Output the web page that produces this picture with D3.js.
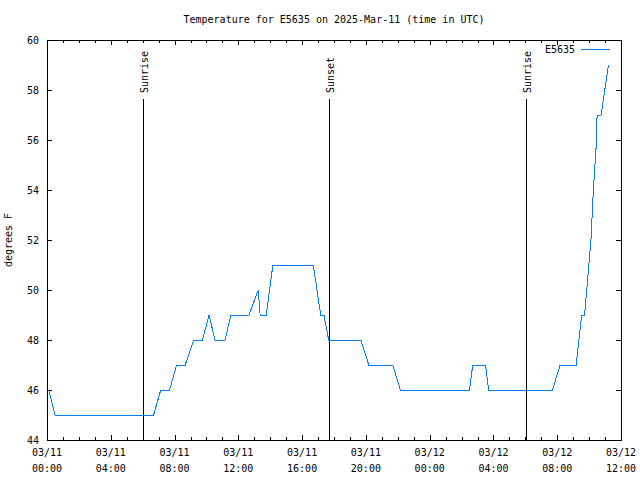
<!DOCTYPE html>
<html>
<head>
<meta charset="utf-8">
<script src="https://cdn.jsdelivr.net/npm/d3@7"></script>
<style>
  html, body { margin: 0; padding: 0; background: #fff; }
  svg { display: block; }
  text { font-family: "DejaVu Sans Mono", monospace; font-size: 10px; fill: #000; }
</style>
</head>
<body>
<svg id="chart" width="640" height="480"></svg>
<script>
// ---- data ----
const title = "Temperature for E5635 on 2025-Mar-11 (time in UTC)";
const seriesName = "E5635";
const yLabel = "degrees F";
const times = [
  "2025-03-11T00:07Z","2025-03-11T00:30Z","2025-03-11T06:41Z","2025-03-11T07:08Z",
  "2025-03-11T07:41Z","2025-03-11T08:08Z","2025-03-11T08:40Z","2025-03-11T09:12Z",
  "2025-03-11T09:45Z","2025-03-11T10:10Z","2025-03-11T10:32Z","2025-03-11T11:10Z",
  "2025-03-11T11:32Z","2025-03-11T12:40Z","2025-03-11T13:15Z","2025-03-11T13:22Z",
  "2025-03-11T13:45Z","2025-03-11T14:10Z","2025-03-11T16:42Z","2025-03-11T17:10Z",
  "2025-03-11T17:22Z","2025-03-11T17:40Z","2025-03-11T19:41Z","2025-03-11T20:11Z",
  "2025-03-11T21:41Z","2025-03-11T22:10Z","2025-03-12T02:30Z","2025-03-12T02:42Z",
  "2025-03-12T03:30Z","2025-03-12T03:42Z","2025-03-12T07:42Z","2025-03-12T08:11Z",
  "2025-03-12T09:11Z","2025-03-12T09:32Z","2025-03-12T09:43Z","2025-03-12T10:07Z",
  "2025-03-12T10:16Z","2025-03-12T10:28Z","2025-03-12T10:30Z","2025-03-12T10:45Z",
  "2025-03-12T11:13Z"
];
const temps = [
  46, 45, 45, 46,
  46, 47, 47, 48,
  48, 49, 48, 48,
  49, 49, 50, 49,
  49, 51, 51, 49,
  49, 48, 48, 47,
  47, 46, 46, 47,
  47, 46, 46, 47,
  47, 49, 49, 52,
  54, 56, 57, 57,
  59
];
const sunLabels = ["Sunrise", "Sunset", "Sunrise"];
const sunTimes = ["2025-03-11T06:03Z", "2025-03-11T17:43Z", "2025-03-12T06:03Z"];
const xDomain = ["2025-03-11T00:00Z", "2025-03-12T12:00Z"];
const yDomain = [44, 60];
const yTicks = [44, 46, 48, 50, 52, 54, 56, 58, 60];

// ---- layout ----
const L = 47, R = 621, T = 40, B = 440;
const svg = d3.select("#chart");
const x = d3.scaleUtc().domain(xDomain.map(d => new Date(d))).range([L, R]);
const y = d3.scaleLinear().domain(yDomain).range([B, T]);
const data = times.map((t, i) => ({ t: new Date(t), v: temps[i] }));

// title
svg.append("text").attr("x", (L + R) / 2).attr("y", 23)
  .attr("text-anchor", "middle").text(title);

// y label
svg.append("text").attr("transform", `translate(12,${(T + B) / 2}) rotate(-90)`)
  .attr("text-anchor", "middle").text(yLabel);

const majorX = d3.utcHour.every(4).range(x.domain()[0], d3.utcHour.offset(x.domain()[1], 1));
const minorX = d3.utcHour.every(1).range(x.domain()[0], d3.utcHour.offset(x.domain()[1], 1));

function tickStyle(g) {
  g.select(".domain").remove();
  g.selectAll("line").attr("stroke", "#000").attr("shape-rendering", "crispEdges");
  g.selectAll("text").remove();
}

// bottom minor + major
svg.append("g").attr("transform", `translate(0,${B})`)
  .call(d3.axisBottom(x).tickValues(minorX).tickSize(-3).tickFormat("")).call(tickStyle);
svg.append("g").attr("transform", `translate(0,${B})`)
  .call(d3.axisBottom(x).tickValues(majorX).tickSize(-5).tickFormat("")).call(tickStyle);
// top mirror
svg.append("g").attr("transform", `translate(0,${T})`)
  .call(d3.axisTop(x).tickValues(minorX).tickSize(-3).tickFormat("")).call(tickStyle);
svg.append("g").attr("transform", `translate(0,${T})`)
  .call(d3.axisTop(x).tickValues(majorX).tickSize(-5).tickFormat("")).call(tickStyle);
// y ticks left & right
svg.append("g").attr("transform", `translate(${L},0)`)
  .call(d3.axisLeft(y).tickValues(yTicks).tickSize(-5).tickFormat("")).call(tickStyle);
svg.append("g").attr("transform", `translate(${R},0)`)
  .call(d3.axisRight(y).tickValues(yTicks).tickSize(-5).tickFormat("")).call(tickStyle);

// x tick labels (two lines)
const fDate = d3.utcFormat("%m/%d"), fTime = d3.utcFormat("%H:%M");
const xl = svg.append("g");
majorX.forEach(d => {
  const t = xl.append("text").attr("x", x(d)).attr("text-anchor", "middle");
  t.append("tspan").attr("x", x(d)).attr("y", 456).text(fDate(d));
  t.append("tspan").attr("x", x(d)).attr("y", 472).text(fTime(d));
});
// y tick labels
yTicks.forEach(v => {
  svg.append("text").attr("x", L - 8).attr("y", y(v)).attr("dy", "0.35em")
    .attr("text-anchor", "end").text(v);
});

// border
svg.append("rect").attr("x", L).attr("y", T).attr("width", R - L).attr("height", B - T)
  .attr("fill", "none").attr("stroke", "#000").attr("shape-rendering", "crispEdges");

// sun lines
sunTimes.forEach((s, i) => {
  const xs = Math.round(x(new Date(s))) + 0.5;
  svg.append("line").attr("x1", xs).attr("x2", xs).attr("y1", 99).attr("y2", B)
    .attr("stroke", "#000").attr("shape-rendering", "crispEdges");
  svg.append("text").attr("transform", `translate(${xs + 4},93) rotate(-90)`)
    .attr("text-anchor", "start").text(sunLabels[i]);
});

// series line
const line = d3.line().x(d => x(d.t)).y(d => y(d.v));
svg.append("path").datum(data).attr("d", line)
  .attr("fill", "none").attr("stroke", "#0080ff").attr("stroke-width", 1)
  .attr("shape-rendering", "crispEdges");

// legend
svg.append("text").attr("x", 575).attr("y", 53).attr("text-anchor", "end").text(seriesName);
svg.append("line").attr("x1", 581).attr("x2", 610).attr("y1", 49.5).attr("y2", 49.5)
  .attr("stroke", "#0080ff").attr("shape-rendering", "crispEdges");
</script>
</body>
</html>
